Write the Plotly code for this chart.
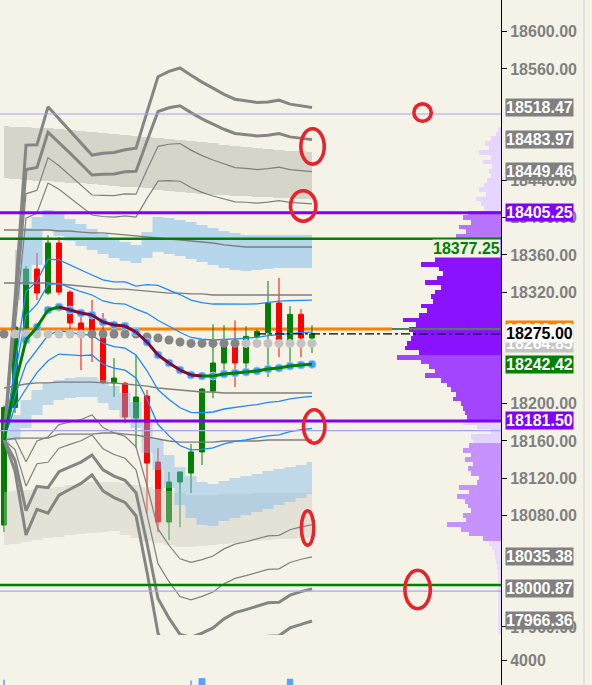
import plotly.graph_objects as go

# ---------------- data ----------------
bar_index = list(range(29))

opens = [18069.5, 18196.0, 18281.4, 18344.8, 18319.0, 18372.8, 18320.0, 18286.8, 18292.0, 18274.0,
         18222.3, 18222.0, 18184.6, 18208.3, 18137.3, 18072.8, 18115.8, 18125.5, 18148.1, 18213.6,
         18243.8, 18262.0, 18243.8, 18272.4, 18276.7, 18308.3, 18266.0, 18296.1, 18270.6]
highs = [18198.0, 18292.0, 18348.0, 18362.0, 18381.4, 18379.3, 18322.0, 18300.8, 18311.5, 18297.5,
         18249.0, 18223.5, 18252.0, 18214.7, 18152.4, 18126.6, 18127.0, 18156.6, 18216.9, 18285.5,
         18284.4, 18289.6, 18283.4, 18280.0, 18332.0, 18335.3, 18305.0, 18301.8, 18284.4]
lows = [18062.0, 18190.0, 18278.0, 18311.5, 18317.0, 18317.0, 18270.6, 18236.0, 18244.8, 18221.0,
        18207.2, 18179.3, 18152.4, 18082.5, 18062.0, 18053.4, 18067.2, 18104.0, 18134.0, 18206.0,
        18236.0, 18218.0, 18236.0, 18270.0, 18228.8, 18250.0, 18245.0, 18250.0, 18254.6]
closes = [18196.0, 18282.5, 18344.8, 18319.0, 18372.8, 18320.0, 18286.8, 18279.0, 18275.0, 18222.8,
          18227.6, 18185.7, 18207.2, 18136.2, 18072.8, 18115.8, 18126.6, 18148.1, 18215.8, 18243.8,
          18264.2, 18243.8, 18272.4, 18277.7, 18308.3, 18266.0, 18296.1, 18270.6, 18275.0]

center_line = [18161.0, 18220.1, 18268.5, 18282.5, 18300.8, 18304.0, 18300.8, 18297.5, 18295.4, 18287.8,
               18284.6, 18283.5, 18277.1, 18266.3, 18252.4, 18243.8, 18236.2, 18230.9, 18229.8, 18229.8,
               18231.9, 18233.0, 18234.1, 18235.2, 18237.3, 18238.4, 18240.5, 18241.6, 18242.42]
band_plus8 = [18161.0, 18312.6, 18478.1, 18478.5, 18519.2, 18506.4, 18493.6, 18480.7, 18467.4, 18469.4,
              18470.2, 18473.1, 18474.7, 18513.5, 18551.6, 18557.4, 18561.0, 18553.3, 18545.8, 18539.4,
              18532.7, 18527.4, 18526.1, 18524.0, 18524.5, 18526.4, 18522.1, 18520.0, 18518.47]
band_plus7 = [18161.0, 18301.0, 18451.9, 18454.0, 18491.9, 18481.1, 18469.5, 18457.8, 18445.9, 18446.7,
              18447.0, 18449.4, 18450.0, 18482.6, 18514.2, 18518.2, 18520.4, 18513.0, 18506.3, 18500.7,
              18495.1, 18490.6, 18489.6, 18487.9, 18488.6, 18490.4, 18486.9, 18485.2, 18483.97]
band_plus6 = [18161.0, 18289.5, 18425.7, 18429.5, 18464.6, 18455.8, 18445.4, 18434.9, 18424.4, 18424.0,
              18423.8, 18425.7, 18425.3, 18451.7, 18476.8, 18479.0, 18479.8, 18472.7, 18466.8, 18462.0,
              18457.5, 18453.8, 18453.1, 18451.8, 18452.7, 18454.4, 18451.7, 18450.4, 18449.46]
band_plus5 = [18161.0, 18277.9, 18399.5, 18405.0, 18437.3, 18430.5, 18421.3, 18412.0, 18402.9, 18401.3,
              18400.6, 18402.0, 18400.6, 18420.8, 18439.4, 18439.8, 18439.2, 18432.4, 18427.3, 18423.3,
              18419.9, 18417.0, 18416.6, 18415.7, 18416.8, 18418.4, 18416.5, 18415.6, 18414.97]
band_plus2 = [18161.0, 18243.2, 18320.9, 18331.5, 18355.4, 18354.6, 18349.0, 18343.3, 18338.4, 18333.2,
              18331.0, 18330.9, 18326.5, 18328.1, 18327.2, 18322.2, 18317.4, 18311.5, 18308.8, 18307.2,
              18307.1, 18306.6, 18307.1, 18307.4, 18309.1, 18310.4, 18310.9, 18311.2, 18311.44]
band_plus1 = [18161.0, 18231.7, 18294.7, 18307.0, 18328.1, 18329.3, 18324.9, 18320.4, 18316.9, 18310.5,
              18307.8, 18307.2, 18301.8, 18297.2, 18289.8, 18283.0, 18276.8, 18271.2, 18269.3, 18268.5,
              18269.5, 18269.8, 18270.6, 18271.3, 18273.2, 18274.4, 18275.7, 18276.4, 18276.93]
band_minus1 = [18161.0, 18208.5, 18242.3, 18258.0, 18273.5, 18278.7, 18276.7, 18274.6, 18273.9, 18265.1,
               18261.4, 18259.8, 18252.4, 18235.4, 18215.0, 18204.6, 18195.6, 18190.6, 18190.3, 18191.1,
               18194.3, 18196.2, 18197.6, 18199.1, 18201.4, 18202.4, 18205.3, 18206.8, 18207.91]
band_minus2 = [18161.0, 18197.0, 18216.1, 18233.5, 18246.2, 18253.4, 18252.6, 18251.7, 18252.4, 18242.4,
               18238.2, 18236.1, 18227.7, 18204.5, 18177.6, 18165.4, 18155.0, 18150.3, 18150.8, 18152.4,
               18156.7, 18159.4, 18161.1, 18163.0, 18165.5, 18166.4, 18170.1, 18172.0, 18173.40]
band_minus5 = [18161.0, 18162.3, 18137.5, 18160.0, 18164.3, 18177.5, 18180.3, 18183.0, 18187.9, 18174.3,
               18168.6, 18165.0, 18153.6, 18111.8, 18065.4, 18047.8, 18033.2, 18029.4, 18032.3, 18036.3,
               18043.9, 18049.0, 18051.6, 18054.7, 18057.8, 18058.4, 18064.5, 18067.6, 18069.87]
band_minus6 = [18161.0, 18150.7, 18111.3, 18135.5, 18137.0, 18152.2, 18156.2, 18160.1, 18166.4, 18151.6,
               18145.4, 18141.3, 18128.9, 18080.9, 18028.0, 18008.6, 17992.6, 17989.1, 17992.8, 17997.6,
               18006.3, 18012.2, 18015.1, 18018.6, 18021.9, 18022.4, 18029.3, 18032.8, 18035.38]
band_minus7 = [18161.0, 18139.2, 18085.1, 18111.0, 18109.7, 18126.9, 18132.1, 18137.2, 18144.9, 18128.9,
               18122.2, 18117.6, 18104.2, 18050.0, 17990.6, 17969.4, 17952.0, 17948.8, 17953.3, 17958.9,
               17968.7, 17975.4, 17978.6, 17982.5, 17986.0, 17986.4, 17994.1, 17998.0, 18000.87]
band_minus8 = [18161.0, 18127.6, 18058.9, 18086.5, 18082.4, 18101.6, 18108.0, 18114.3, 18123.4, 18106.2,
               18099.0, 18093.9, 18079.5, 18019.1, 17953.2, 17930.2, 17911.4, 17908.5, 17913.8, 17920.2,
               17931.1, 17938.6, 17942.1, 17946.4, 17950.1, 17950.4, 17958.9, 17962.8, 17966.36]

vwap_dots = [18275.0, 18275.0, 18275.0, 18275.0, 18275.0, 18275.0, 18275.0, 18275.0, 18275.0, 18275.0,
             18275.0, 18275.0, 18275.0, 18271.7, 18270.6, 18268.5, 18266.4, 18264.85, 18264.85, 18264.85,
             18264.85, 18264.85, 18264.85, 18264.85, 18264.85, 18264.85, 18264.85, 18264.85, 18264.85]
vwap_up2 = [18386.8, 18386.8, 18386.8, 18386.8, 18386.8, 18385.7, 18385.7, 18384.6, 18383.6, 18383.6,
            18382.5, 18381.4, 18380.3, 18379.3, 18378.2, 18377.1, 18376.0, 18374.9, 18373.9, 18372.8,
            18370.7, 18369.6, 18368.5, 18368.5, 18368.5, 18368.5, 18368.5, 18368.5, 18368.5]
vwap_up1 = [18329.8, 18329.8, 18329.8, 18329.8, 18329.8, 18328.7, 18327.6, 18326.6, 18325.5, 18324.4,
            18323.3, 18323.3, 18322.3, 18321.2, 18320.1, 18319.0, 18319.0, 18318.0, 18318.0, 18316.9,
            18316.9, 18316.9, 18316.9, 18316.9, 18316.9, 18316.9, 18316.9, 18316.9, 18316.9]
vwap_dn1 = [18216.9, 18219.0, 18221.2, 18222.3, 18222.3, 18223.3, 18223.3, 18223.3, 18223.3, 18222.3,
            18222.3, 18221.2, 18220.1, 18219.0, 18216.9, 18215.8, 18214.7, 18213.7, 18212.6, 18212.6,
            18211.5, 18211.5, 18211.5, 18211.5, 18211.5, 18211.5, 18211.5, 18211.5, 18211.5]
vwap_dn2 = [18161.0, 18163.1, 18163.1, 18163.1, 18163.1, 18167.4, 18167.4, 18167.4, 18167.4, 18168.5,
            18168.5, 18167.4, 18166.3, 18164.2, 18162.0, 18159.9, 18158.8, 18158.8, 18158.8, 18158.8,
            18159.9, 18159.9, 18159.9, 18159.9, 18161.0, 18161.0, 18161.0, 18161.0, 18161.0]

upper_gray_top = [18498.6, 18497.5, 18497.5, 18496.5, 18496.5, 18495.4, 18494.3, 18493.2, 18492.2, 18491.1,
                  18490.0, 18488.9, 18487.9, 18486.8, 18485.7, 18484.6, 18483.6, 18482.5, 18481.4, 18480.3,
                  18478.2, 18477.1, 18476.0, 18475.0, 18473.9, 18472.8, 18471.7, 18471.7, 18470.7]
upper_gray_bot = [18442.7, 18441.6, 18440.5, 18439.5, 18439.5, 18438.4, 18437.3, 18437.3, 18436.3, 18435.2,
                  18434.1, 18433.0, 18433.0, 18431.9, 18429.8, 18428.7, 18427.6, 18426.6, 18425.5, 18424.4,
                  18424.4, 18423.3, 18423.3, 18422.3, 18422.3, 18421.2, 18421.2, 18420.1, 18420.1]
lower_gray_top = [18105.1, 18106.1, 18107.2, 18108.3, 18109.3, 18110.4, 18112.6, 18113.6, 18115.8, 18115.8,
                  18115.8, 18114.7, 18112.6, 18110.4, 18108.3, 18106.1, 18104.0, 18101.8, 18101.8, 18101.8,
                  18102.9, 18102.9, 18102.9, 18104.0, 18104.0, 18104.0, 18104.0, 18104.0, 18104.0]
lower_gray_bot = [18048.1, 18049.1, 18051.3, 18053.4, 18055.6, 18056.7, 18058.8, 18059.9, 18061.0, 18062.0,
                  18063.1, 18058.8, 18055.6, 18052.4, 18050.2, 18048.1, 18045.9, 18045.9, 18047.0, 18048.1,
                  18049.1, 18050.2, 18051.3, 18052.4, 18053.4, 18054.5, 18054.5, 18055.6, 18055.6]
upper_blue_index = list(range(1, 29))
upper_blue_top = [18365.3, 18388.9, 18400.8, 18408.3, 18404.0, 18398.6, 18393.2, 18387.9, 18382.5, 18378.2,
                  18373.9, 18370.7, 18384.6, 18400.8, 18399.7, 18397.6, 18395.4, 18392.2, 18388.9, 18385.7,
                  18383.6, 18381.4, 18381.4, 18381.4, 18381.4, 18381.4, 18381.4, 18381.4]
upper_blue_bot = [18311.5, 18327.6, 18349.1, 18386.8, 18380.3, 18375.0, 18369.6, 18365.3, 18361.0, 18356.7,
                  18353.4, 18351.3, 18356.7, 18363.1, 18361.0, 18358.8, 18355.6, 18352.4, 18349.1, 18345.9,
                  18343.8, 18342.7, 18343.8, 18344.8, 18345.9, 18345.9, 18345.9, 18345.9]
lower_blue_top = [18169.6, 18187.8, 18204.0, 18214.7, 18222.3, 18225.5, 18227.6, 18228.7, 18228.7, 18225.5,
                  18219.0, 18211.5, 18201.8, 18179.2, 18161.0, 18144.8, 18132.0, 18122.3, 18115.8, 18113.7,
                  18116.9, 18120.1, 18122.3, 18124.4, 18127.6, 18129.8, 18132.0, 18134.1, 18137.3]
lower_blue_bot = [18155.6, 18161.0, 18173.9, 18187.8, 18198.6, 18204.0, 18206.1, 18207.2, 18207.2, 18200.8,
                  18193.2, 18184.6, 18173.9, 18147.0, 18128.7, 18109.4, 18091.1, 18077.1, 18069.6, 18068.5,
                  18073.9, 18077.1, 18080.3, 18083.6, 18086.8, 18091.1, 18094.3, 18098.6, 18102.9]

# volume profile (5-point bins, top to bottom)
profile_levels = list(range(18495, 17950, -5))
profile_volume = [3, 5, 10, 16, 12, 22, 10, 18, 9, 12,
                  10, 14, 17, 22, 15, 25, 20, 17, 33, 38,
                  30, 42, 35, 45, 50, 55, 58, 60, 66, 80,
                  62, 58, 64, 76, 60, 66, 70, 68, 80, 74,
                  82, 98, 85, 92, 88, 90, 94, 96, 82, 104,
                  80, 72, 66, 76, 60, 54, 50, 45, 48, 40,
                  38, 36, 34, 38, 24, 10, 30, 28, 32, 38,
                  30, 36, 28, 33, 30, 22, 24, 42, 32, 44,
                  36, 33, 30, 38, 35, 54, 40, 32, 18, 12,
                  9, 7, 6, 5, 4, 3, 3, 3, 3, 3,
                  3, 3, 3, 3, 3, 3, 3, 3, 3]

# bottom pane: only a few bars show a mark
sub_bars = [0, 17, 18, 26]
sub_volume = [700, 600, 1100, 1000]

value_area_high = 18405.25
value_area_low = 18181.50
green_level_high = 18377.25
green_level_low = 18005.0
lavender_levels = [18511.5, 18171.0, 17998.5]
orange_level = 18280.25

# price ticks that peek out between the value boxes
tick_vals = [17960, 18080, 18120, 18160, 18200, 18320, 18360, 18400, 18440, 18560, 18600]

# hand-drawn red circles: (bar index, price, radius x px, radius y px)
red_circles = [(38.05, 18513.1, 10.5, 10.5), (28.05, 18476.6, 13.5, 19.5), (27.2, 18412.6, 14.5, 17.0),
               (28.2, 18175.5, 12.5, 18.5), (27.6, 18066.4, 8.0, 19.0), (37.6, 18000.2, 14.5, 21.0)]

# ---------------- layout geometry ----------------
W, H = 592, 685
PLOT_W = 501
X_RANGE = [-0.364, 45.18]
Y_RANGE = [17951.3, 18634.1]
MAIN_DOMAIN = [50 / 685, 1.0]
SUB_RANGE = [0, 8000]
PX_PER_BAR = PLOT_W / (X_RANGE[1] - X_RANGE[0])
PX_PER_PT = 635 / (Y_RANGE[1] - Y_RANGE[0])
SUB_PX_PER_UNIT = 50 / (SUB_RANGE[1] - SUB_RANGE[0])

BG = '#f5f3e7'
FONT = 'Liberation Sans, Arial, sans-serif'

fig = go.Figure()

# volume profile (horizontal bars growing leftwards from the right edge)
def profile_color(p):
    if p >= 18410:
        return '#e6d6ff'
    if p >= 18380:
        return '#b873ff'
    if p >= 18255:
        return '#8a12ff'
    if p >= 18185:
        return '#a245ff'
    if p >= 18160:
        return '#e4d2ff'
    if p >= 18055:
        return '#c592ff'
    return '#e8dbff'

fig.add_trace(go.Bar(
    orientation='h', y=profile_levels,
    x=[-v / PX_PER_BAR for v in profile_volume], base=X_RANGE[1], width=5,
    marker=dict(color=[profile_color(p) for p in profile_levels], line=dict(width=0)),
    hoverinfo='skip', showlegend=False))

# candles
fig.add_trace(go.Candlestick(
    x=bar_index, open=opens, high=highs, low=lows, close=closes,
    increasing=dict(line=dict(color='#008000', width=1), fillcolor='#008000'),
    decreasing=dict(line=dict(color='#ff0000', width=1), fillcolor='#ff0000'),
    whiskerwidth=0, showlegend=False, hoverinfo='skip'))

# shaded bands (semi-transparent, over candles)
def add_band(xs, lo, hi, color):
    fig.add_trace(go.Scatter(x=xs, y=lo, mode='lines', line=dict(width=0, shape='hvh'),
                             hoverinfo='skip', showlegend=False))
    fig.add_trace(go.Scatter(x=xs, y=hi, mode='lines', line=dict(width=0, shape='hvh'),
                             fill='tonexty', fillcolor=color, hoverinfo='skip', showlegend=False))

add_band(bar_index, upper_gray_bot, upper_gray_top, 'rgba(188,188,178,0.55)')
add_band(bar_index, lower_gray_bot, lower_gray_top, 'rgba(200,200,190,0.38)')
add_band(upper_blue_index, upper_blue_bot, upper_blue_top, 'rgba(120,185,240,0.5)')
add_band(bar_index, lower_blue_bot, lower_blue_top, 'rgba(120,180,235,0.42)')

def add_line(ys, color, width):
    fig.add_trace(go.Scatter(x=bar_index, y=ys, mode='lines', line=dict(color=color, width=width),
                             hoverinfo='skip', showlegend=False))

for s in (vwap_up2, vwap_up1, vwap_dn1, vwap_dn2):
    add_line(s, '#7d7d7d', 1.3)
for s in (band_plus5, band_plus6, band_minus5, band_minus6):
    add_line(s, '#808080', 1.2)
for s in (band_plus7, band_plus8, band_minus7, band_minus8):
    add_line(s, '#858585', 3)
for s in (band_plus1, band_plus2, band_minus1, band_minus2):
    add_line(s, '#1e88ff', 1.3)

# gray VWAP dots (light when the close is above them)
dot_colors = ['#c2c2c2' if c > d else '#858585' for c, d in zip(closes, vwap_dots)]
fig.add_trace(go.Scatter(x=bar_index, y=vwap_dots, mode='markers', cliponaxis=True,
                         marker=dict(size=9, color=dot_colors, line=dict(width=0)),
                         hoverinfo='skip', showlegend=False))

# blue dots on the center line
fig.add_trace(go.Scatter(x=bar_index[2:], y=center_line[2:], mode='markers', cliponaxis=True,
                         marker=dict(size=8, color='#3f9dff', line=dict(width=1, color='#8fc8ff')),
                         hoverinfo='skip', showlegend=False))

# center line: green when rising/flat, maroon when falling
seg = {'up': ([], []), 'down': ([], [])}
for i in range(1, len(center_line)):
    key = 'down' if center_line[i] < center_line[i - 1] else 'up'
    seg[key][0].extend([bar_index[i - 1], bar_index[i], None])
    seg[key][1].extend([center_line[i - 1], center_line[i], None])
fig.add_trace(go.Scatter(x=seg['up'][0], y=seg['up'][1], mode='lines',
                         line=dict(color='#008000', width=3), hoverinfo='skip', showlegend=False))
fig.add_trace(go.Scatter(x=seg['down'][0], y=seg['down'][1], mode='lines',
                         line=dict(color='#7d0a3c', width=3), hoverinfo='skip', showlegend=False))

# bottom pane marks (drawn as markers standing on the pane's floor)
fig.add_trace(go.Scatter(
    x=sub_bars, y=[v / 2 for v in sub_volume], xaxis='x2', yaxis='y2', mode='markers', cliponaxis=False,
    marker=dict(symbol=['square' if v >= 900 else 'line-ns' for v in sub_volume],
                size=[v * SUB_PX_PER_UNIT for v in sub_volume], color='#1e7fff',
                line=dict(width=[0 if v >= 900 else 1.5 for v in sub_volume], color='#1e7fff')),
    hoverinfo='skip', showlegend=False))

# ---------------- shapes ----------------
shapes = []

def hline(y, color, width, x0=0, x1=1, dash='solid', layer='above'):
    shapes.append(dict(type='line', xref='x domain', yref='y', x0=x0, x1=x1, y0=y, y1=y,
                       line=dict(color=color, width=width, dash=dash), layer=layer))

hline(orange_level, '#ff8000', 3, 0, 392 / PLOT_W, layer='below')
hline(orange_level, '#5b7a5b', 2, 392 / PLOT_W, 1)
for lv in lavender_levels:
    hline(lv, '#a4a4ff', 1.2)
hline(value_area_high, '#8000ff', 3)
hline(value_area_low, '#8000ff', 3)
hline(green_level_high, '#008000', 2.5)
hline(green_level_low, '#008000', 2.5)
hline(closes[-1], '#000000', 1.3, 257 / PLOT_W, 1, dash='dashdot')

for cx, cy, rx, ry in red_circles:
    rxd = (rx - 1.8) / PX_PER_BAR
    ryd = (ry - 1.8) / PX_PER_PT
    shapes.append(dict(type='circle', xref='x', yref='y', x0=cx - rxd, x1=cx + rxd,
                       y0=cy - ryd, y1=cy + ryd, line=dict(color='#e8232b', width=3.6), layer='above'))

shapes.append(dict(type='line', xref='paper', yref='paper', x0=584 / PLOT_W, x1=584 / PLOT_W,
                   y0=0, y1=1, line=dict(color='#cfcfcf', width=1)))

# ---------------- right-hand price labels ----------------
annotations = []

def price_label(p, bg, fg):
    annotations.append(dict(x=505 / PLOT_W, xref='paper', xanchor='left', y=p, yref='y', yanchor='middle',
                            text=f'{p:.2f}', showarrow=False, bgcolor=bg, borderpad=0,
                            font=dict(family=FONT, size=16, color=fg, weight='bold')))

price_label(orange_level, '#ff8000', '#ffffff')
price_label(vwap_dots[-1], '#c4c4c4', '#ffffff')
price_label(closes[-1], '#ffffff', '#000000')
price_label(center_line[-1], '#008000', '#ffffff')
for s in (band_plus8, band_plus7, band_plus6, band_minus6, band_minus7, band_minus8):
    price_label(s[-1], '#808080', '#ffffff')
price_label(value_area_high, '#8000ff', '#ffffff')
price_label(value_area_low, '#8000ff', '#ffffff')

annotations.append(dict(x=1.0, xref='paper', xanchor='right', y=green_level_high - 10.4,
                        yref='y', yanchor='middle', text=f'{green_level_high:.2f}', showarrow=False,
                        bgcolor=BG, borderpad=0,
                        font=dict(family=FONT, size=16, color='#008000', weight='bold')))

fig.update_layout(
    template='none',
    width=W, height=H,
    margin=dict(l=0, r=W - PLOT_W, t=0, b=0),
    paper_bgcolor=BG, plot_bgcolor=BG,
    showlegend=False, boxgap=0.36, bargap=0,
    xaxis=dict(domain=[0, 1], range=X_RANGE, showgrid=False, zeroline=False, showticklabels=False,
               ticks='', showline=False, rangeslider=dict(visible=False), anchor='y'),
    yaxis=dict(domain=MAIN_DOMAIN, range=Y_RANGE, side='right', anchor='x', showgrid=False, zeroline=False,
               showline=True, linecolor='#000000', linewidth=1, ticks='outside', ticklen=5,
               tickcolor='#000000', tickwidth=1, tickvals=tick_vals, tickformat='.2f',
               tickfont=dict(family=FONT, size=16, color='#808080', weight='bold'), automargin=False),
    xaxis2=dict(domain=[0, 1], range=X_RANGE, anchor='y2', showgrid=False, zeroline=False,
                showticklabels=False, ticks='', showline=False, rangeslider=dict(visible=False)),
    yaxis2=dict(domain=[0, MAIN_DOMAIN[0]], range=SUB_RANGE, side='right', anchor='x2', showgrid=False,
                zeroline=False, showline=True, linecolor='#000000', linewidth=1, ticks='outside', ticklen=5,
                tickcolor='#000000', tickvals=[4000], ticktext=['4000'],
                tickfont=dict(family=FONT, size=16, color='#808080', weight='bold'), automargin=False),
    shapes=shapes,
    annotations=annotations,
)

fig.write_html('out.html',
               config={'displayModeBar': False},
               post_script="document.body.style.margin='0px';document.body.style.padding='0px';"
                           "document.body.style.overflow='hidden';")
